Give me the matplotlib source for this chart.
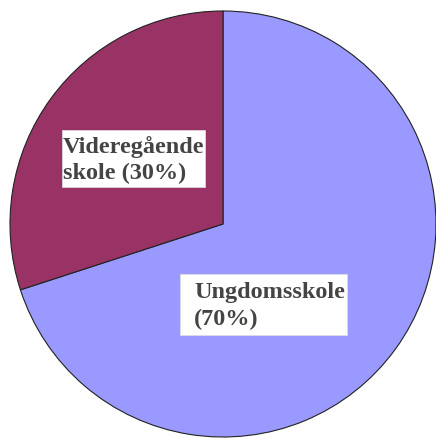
import matplotlib.pyplot as plt
from matplotlib.patches import Rectangle

labels = ['Ungdomsskole\n(70%)', 'Videregående\nskole (30%)']
values = [70, 30]
colors = ['#9999FF', '#993366']

fig = plt.figure(figsize=(4.36, 4.39), dpi=100)
ax = fig.add_axes([0, 0, 1, 1])

# y axis is flipped below, so counterclock=True draws clockwise on screen
ax.pie(values, colors=colors, startangle=-90, counterclock=True,
       center=(223, 225), radius=213, frame=True,
       wedgeprops=dict(edgecolor='#222222', linewidth=0.8))
ax.set_xlim(0, 436)
ax.set_ylim(439, 0)
ax.set_aspect('equal')
ax.axis('off')

# white label boxes
ax.add_patch(Rectangle((62, 131), 143, 57, facecolor='white', edgecolor='#e0e0e0', linewidth=0.5, zorder=3))
ax.add_patch(Rectangle((180, 275), 167, 61, facecolor='white', edgecolor='#e0e0e0', linewidth=0.5, zorder=3))

font = dict(family='Liberation Serif', weight='bold', size=17.5, color='#444444', linespacing=1.35, zorder=4)
ax.text(63, 160, labels[1], ha='left', va='center', **font)
ax.text(194, 306, labels[0], ha='left', va='center', **font)

fig.savefig('out.png', dpi=100)
